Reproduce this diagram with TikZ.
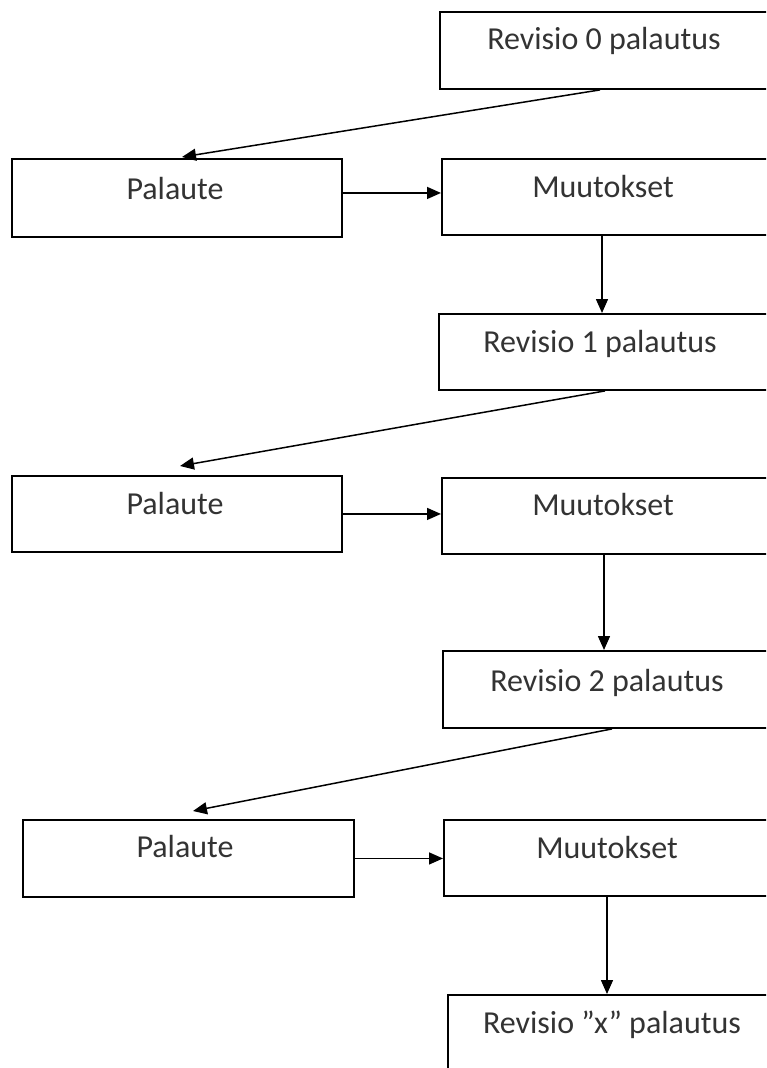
\documentclass[tikz,border=0pt]{standalone}
\usepackage{fontspec}
\setmainfont{Carlito}
\usetikzlibrary{arrows.meta}
\begin{document}
\begin{tikzpicture}[x=1pt,y=-1pt,
  box/.style={draw=black, line width=1.9pt, rectangle, anchor=north west, inner sep=0pt, minimum width=331pt, minimum height=77pt},
  lbl/.style={anchor=base, inner sep=0pt, text=black!80, font=\fontsize{32}{38}\selectfont},
  arr/.style={draw=black, line width=1.5pt, -{Triangle[length=14pt,width=12pt]}}]
\path[use as bounding box] (0,0) rectangle (766,1068);
\clip (0,0) rectangle (766,1068);
% boxes
\node[box] (r0) at (439,11) {};
\node[box, minimum width=330pt, minimum height=78pt] (p1) at (11,158) {};
\node[box, minimum height=76pt] (m1) at (441,158) {};
\node[box, minimum height=76pt] (r1) at (438,313) {};
\node[box, minimum width=330pt, minimum height=76pt] (p2) at (11,475) {};
\node[box, minimum height=76pt] (m2) at (441,477) {};
\node[box] (r2) at (442,650) {};
\node[box] (p3) at (22,819) {};
\node[box, minimum height=76pt] (m3) at (443,819) {};
\node[box, minimum height=90pt] (rx) at (447,994) {};
% labels
\node[lbl] (t0) at (604,49) {Revisio 0 palautus};
\node[lbl] (tp1) at (175,199) {Palaute};
\node[lbl] (tm1) at (603,197) {Muutokset};
\node[lbl] (t1) at (600,352) {Revisio 1 palautus};
\node[lbl] (tp2) at (175,514) {Palaute};
\node[lbl] (tm2) at (603,515) {Muutokset};
\node[lbl] (t2) at (607,691) {Revisio 2 palautus};
\node[lbl] (tp3) at (185,857) {Palaute};
\node[lbl] (tm3) at (607,858) {Muutokset};
\node[lbl] (tx) at (612,1033) {Revisio ”x” palautus};
% connectors
\draw[arr] ([xshift=161pt]r0.south west) -- ([xshift=171pt,yshift=1pt]p1.north west);
\draw[arr] ([yshift=5pt]p1.east) -- ([yshift=5pt]p1.east -| m1.west);
\draw[arr] ([xshift=161pt]m1.south west) -- ([xshift=164pt]r1.north west);
\draw[arr] ([xshift=167pt]r1.south west) -- ([xshift=169pt,yshift=9pt]p2.north west);
\draw[arr] (p2.east) -- (p2.east -| m2.west);
\draw[arr] ([xshift=163pt]m2.south west) -- ([xshift=162pt]r2.north west);
\draw[arr] ([xshift=170pt]r2.south west) -- ([xshift=171pt,yshift=8pt]p3.north west);
\draw[arr] (p3.east) -- (p3.east -| m3.west);
\draw[arr] ([xshift=164pt]m3.south west) -- ([xshift=160pt]rx.north west);
\end{tikzpicture}
\end{document}
